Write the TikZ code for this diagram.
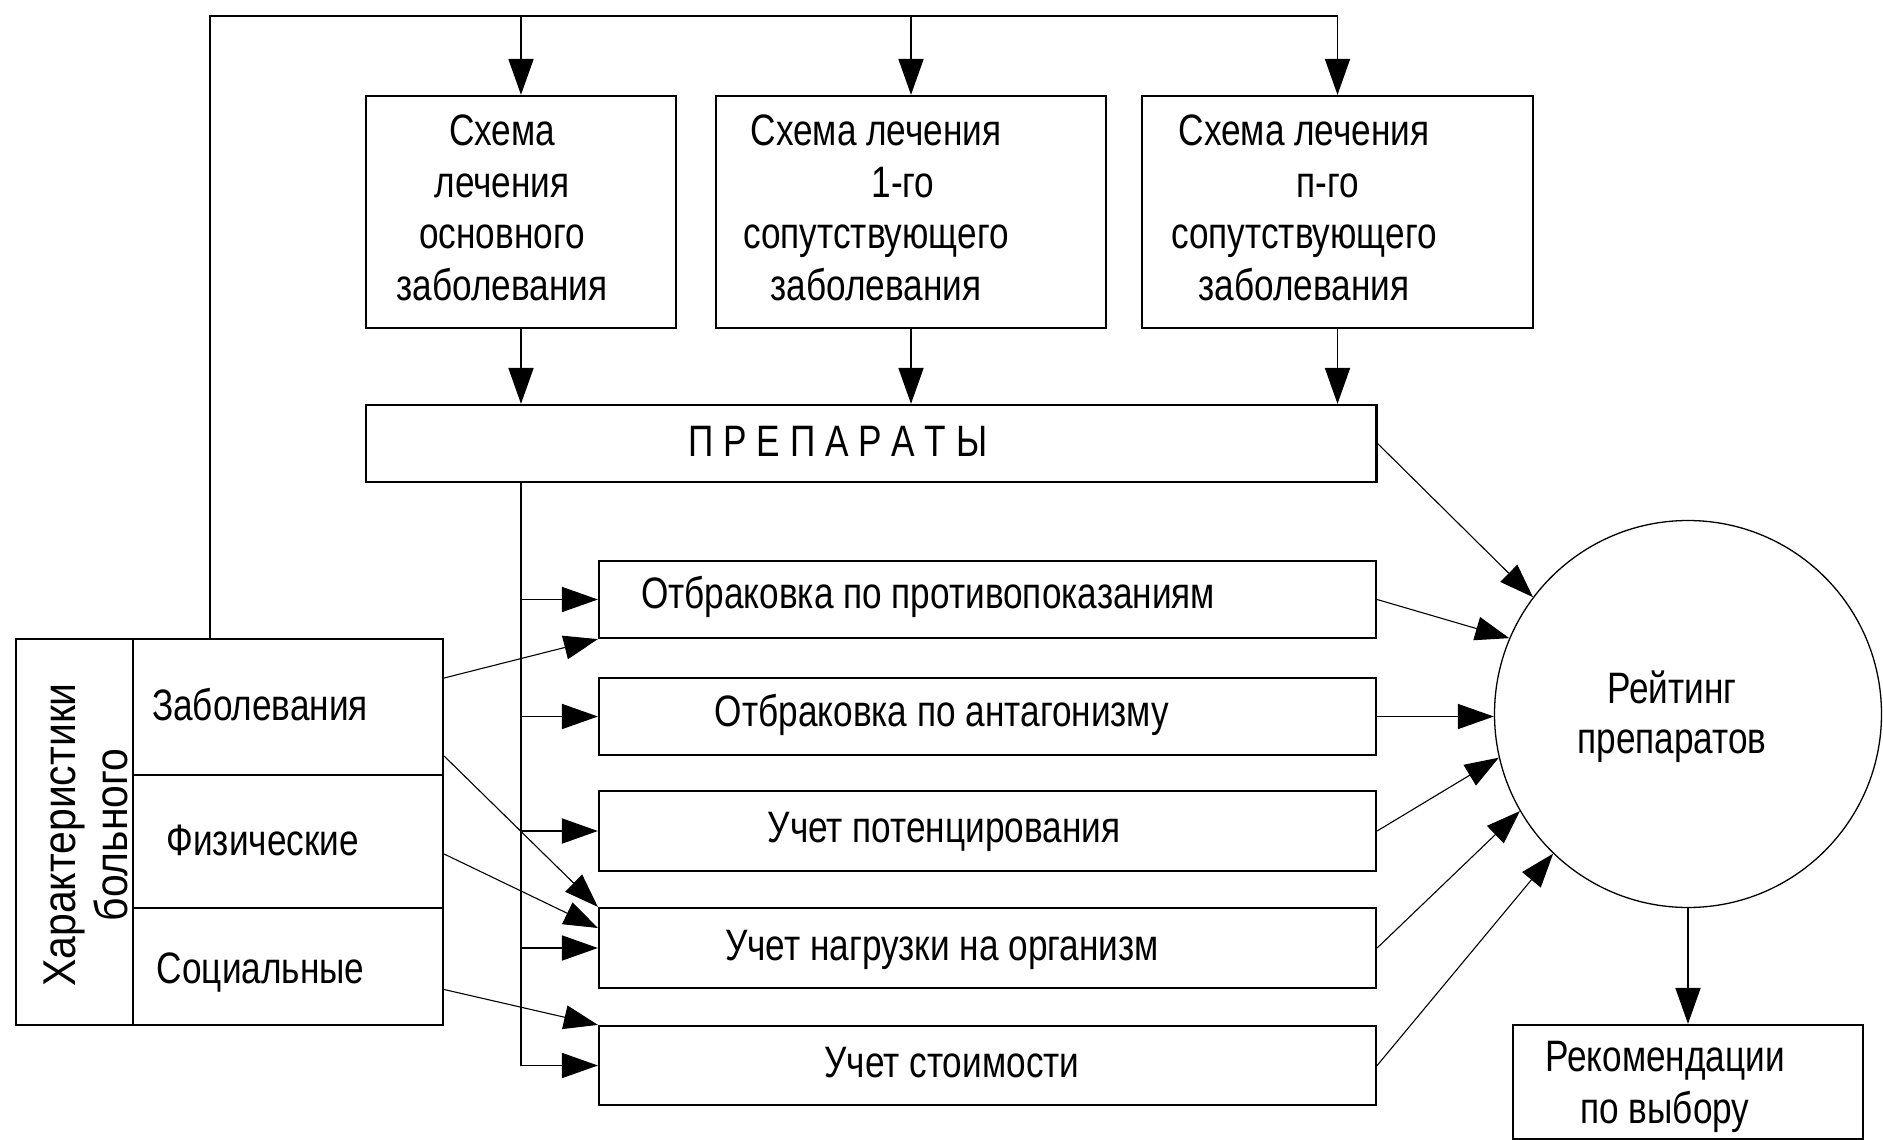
\documentclass[tikz,border=0pt]{standalone}
\usepackage{fontspec}
\setmainfont{Liberation Sans}[FakeStretch=0.8]
\newfontfamily\rotfont{Liberation Sans}[FakeStretch=0.89]
\usetikzlibrary{arrows.meta}
\begin{document}
\begin{tikzpicture}[x=1pt,y=-1pt,
  box/.style={draw, line width=2.2pt, inner sep=0pt},
  txt/.style={inner sep=0pt, font=\fontsize{44}{51.5}\selectfont, align=center},
  conn/.style={line width=1.8pt},
  arr/.style={line width=1.8pt, -{Triangle[length=36pt,width=25pt]}},
  thinarr/.style={line width=1.1pt, -{Triangle[length=34pt,width=24pt]}},
]
\useasboundingbox (0,0) rectangle (1883,1140);
\fill[white] (0,0) rectangle (1883,1140);

% top scheme boxes
\node[box, minimum width=310pt, minimum height=232pt] (s1) at (521,212) {};
\node[box, minimum width=390pt, minimum height=232pt] (s2) at (911,212) {};
\node[box, minimum width=391pt, minimum height=232pt] (s3) at (1337.5,212) {};
\node[txt] (s1t) at (502,208) {Схема\\лечения\\основного\\заболевания};
\node[txt] (s2t) at (876,208) {Схема лечения\\\hspace*{54pt}1-го\\сопутствующего\\заболевания};
\node[txt] (s3t) at (1304,208) {Схема лечения\\\hspace*{48pt}п-го\\сопутствующего\\заболевания};

% preparations
\node[box, minimum width=1010.5pt, minimum height=77pt] (prep) at (871.25,443.5) {};
\node[txt, anchor=base] (prept) at (838,456) {П Р Е П А Р А Т Ы};

% five processing boxes
\node[box, minimum width=777pt, minimum height=77pt] (a) at (987.5,599.5) {};
\node[box, minimum width=777pt, minimum height=77pt] (b) at (987.5,716.5) {};
\node[box, minimum width=777pt, minimum height=80pt] (c) at (987.5,831) {};
\node[box, minimum width=777pt, minimum height=80pt] (d) at (987.5,948) {};
\node[box, minimum width=777pt, minimum height=79pt] (e) at (987.5,1065.5) {};
\node[txt, anchor=base] (at) at (928,608) {Отбраковка по противопоказаниям};
\node[txt, anchor=base] (bt) at (942,726) {Отбраковка по антагонизму};
\node[txt, anchor=base] (ct) at (944,842) {Учет потенцирования};
\node[txt, anchor=base] (dt) at (942,960) {Учет нагрузки на организм};
\node[txt, anchor=base] (et) at (952,1077) {Учет стоимости};

% patient characteristics
\node[box, minimum width=117pt, minimum height=386pt] (lab) at (74.5,832) {};
\node[box, minimum width=310pt, minimum height=136pt] (zab) at (288,707) {};
\node[box, minimum width=310pt, minimum height=133pt] (fiz) at (288,841.5) {};
\node[box, minimum width=310pt, minimum height=117pt] (soc) at (288,966.5) {};
\node[inner sep=0pt, rotate=90, align=center, font=\rotfont\fontsize{46}{52}\selectfont] (labt) at (85.5,835) {Характеристики\\больного};
\node[txt, anchor=base] (zabt) at (260,720) {Заболевания};
\node[txt, anchor=base] (fizt) at (262.7,855) {Физические};
\node[txt, anchor=base] (soct) at (260.7,983) {Социальные};

% rating and recommendation
\node[draw, circle, line width=1.3pt, minimum size=387pt, inner sep=0pt] (rating) at (1688,714) {};
\node[txt, font=\fontsize{44}{50}\selectfont] (ratt) at (1672,717) {Рейтинг\\препаратов};
\node[box, minimum width=350pt, minimum height=114pt] (rec) at (1688,1082) {};
\node[txt, font=\fontsize{44}{52}\selectfont] (rect) at (1665,1087) {Рекомендации\\по выбору};

% connectors
\coordinate (cTop) at (210,639);
\coordinate (tl) at (210,16);
\draw[conn] (cTop) -- (tl) -- (tl -| s3.north);
\draw[arr] (tl -| s1.north) -- (s1.north);
\draw[arr] (tl -| s2.north) -- (s2.north);
\draw[arr] (tl -| s3.north) -- (s3.north);
\draw[arr] (s1.south) -- (s1.south |- prep.north);
\draw[arr] (s2.south) -- (s2.south |- prep.north);
\draw[arr] (s3.south) -- (s3.south |- prep.north);
\draw[conn] (s1.south |- prep.south) -- (s1.south |- e.west);
\draw[arr] (s1.south |- a.west) -- (a.west);
\draw[arr] (s1.south |- b.west) -- (b.west);
\draw[arr] (s1.south |- c.west) -- (c.west);
\draw[arr] (s1.south |- d.west) -- (d.west);
\draw[arr] (s1.south |- e.west) -- (e.west);

\draw[thinarr] ([yshift=29pt]zab.east) -- (a.south west);
\draw[thinarr] ([yshift=-49pt]zab.east) -- (d.north west);
\draw[thinarr] ([yshift=-12.5pt]fiz.east) -- ([yshift=20pt]d.west);
\draw[thinarr] ([yshift=-23pt]soc.east) -- (e.north west);

\draw[thinarr] (prep.east) -- (rating.143);
\draw[thinarr] (a.east) -- (rating.157);
\draw[arr] (b.east) -- (b.east -| rating.west);
\draw[thinarr] (c.east) -- (rating.193);
\draw[thinarr] (d.east) -- (rating.210);
\draw[thinarr] (e.east) -- (rating.226);
\draw[arr] (rating.south) -- (rec.north);
\end{tikzpicture}
\end{document}
